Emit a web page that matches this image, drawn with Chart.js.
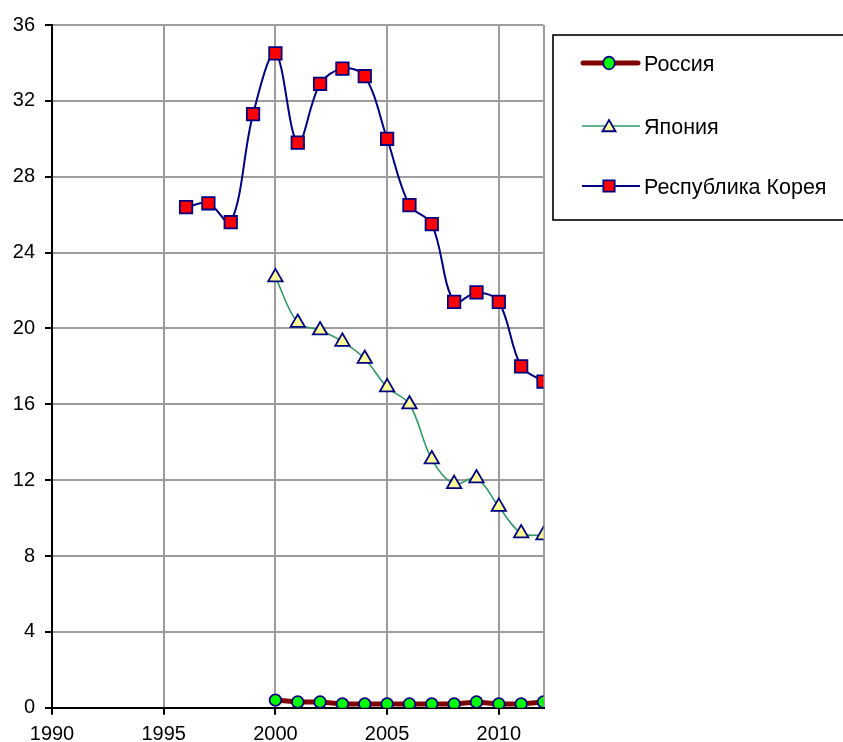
<!DOCTYPE html>
<html>
<head>
<meta charset="utf-8">
<script src="https://cdn.jsdelivr.net/npm/chart.js@4.4.1/dist/chart.umd.min.js"></script>
<style>
  html, body { margin: 0; padding: 0; background: #ffffff; }
  #wrap { width: 843px; height: 742px; }
</style>
</head>
<body>
<div id="wrap"><canvas id="c" width="843" height="742"></canvas></div>
<script>
// ---- Data ----
const koreaYears = [1996, 1997, 1998, 1999, 2000, 2001, 2002, 2003, 2004, 2005, 2006, 2007, 2008, 2009, 2010, 2011, 2012];
const koreaValues = [26.4, 26.6, 25.6, 31.3, 34.5, 29.8, 32.9, 33.7, 33.3, 30.0, 26.5, 25.5, 21.4, 21.9, 21.4, 18.0, 17.2];
const japanYears = [2000, 2001, 2002, 2003, 2004, 2005, 2006, 2007, 2008, 2009, 2010, 2011, 2012];
const japanValues = [22.7, 20.3, 19.9, 19.3, 18.4, 16.9, 16.0, 13.1, 11.8, 12.1, 10.6, 9.2, 9.1];
const russiaYears = [2000, 2001, 2002, 2003, 2004, 2005, 2006, 2007, 2008, 2009, 2010, 2011, 2012];
const russiaValues = [0.4, 0.3, 0.3, 0.2, 0.2, 0.2, 0.2, 0.2, 0.2, 0.3, 0.2, 0.2, 0.3];
const seriesNames = ['Россия', 'Япония', 'Республика Корея'];
const xTickLabels = [1990, 1995, 2000, 2005, 2010];
const yTickLabels = [0, 4, 8, 12, 16, 20, 24, 28, 32, 36];

const FONT = '"Liberation Sans", Arial, sans-serif';
const toXY = (xs, ys) => xs.map((x, i) => ({ x: x, y: ys[i] }));

const styles = [
  { color: '#800000', width: 5, point: 'circle', fill: '#00ff00', r: 5.8 },
  { color: '#339966', width: 1.6, point: 'triangle', fill: '#ffff99', r: 8.3 },
  { color: '#000080', width: 2, point: 'rect', fill: '#ff0000', r: 8.8 }
];

function drawMarker(ctx, type, x, y, r, fill) {
  ctx.save();
  ctx.beginPath();
  if (type === 'circle') {
    ctx.ellipse(x, y, r, r * 1.1, 0, 0, Math.PI * 2);
  } else if (type === 'triangle') {
    let rad = 0;
    ctx.moveTo(x + Math.sin(rad) * r, y - Math.cos(rad) * r);
    rad += 2 * Math.PI / 3;
    ctx.lineTo(x + Math.sin(rad) * r, y - Math.cos(rad) * r);
    rad += 2 * Math.PI / 3;
    ctx.lineTo(x + Math.sin(rad) * r, y - Math.cos(rad) * r);
    ctx.closePath();
  } else {
    const s = Math.SQRT1_2 * r;
    ctx.rect(x - s, y - s, 2 * s, 2 * s);
  }
  ctx.fillStyle = fill;
  ctx.fill();
  ctx.lineWidth = 1.8;
  ctx.strokeStyle = '#000080';
  ctx.stroke();
  ctx.restore();
}

const legendPlugin = {
  id: 'boxLegend',
  afterDraw(chart) {
    const ctx = chart.ctx;
    ctx.save();
    ctx.lineWidth = 1.6;
    ctx.strokeStyle = '#000000';
    ctx.strokeRect(553, 35, 300, 185);
    const ys = [63, 126, 186];
    for (let i = 0; i < 3; i++) {
      const st = styles[i];
      ctx.beginPath();
      ctx.lineWidth = st.width;
      ctx.strokeStyle = st.color;
      ctx.lineCap = i === 0 ? 'round' : 'butt';
      ctx.moveTo(i === 0 ? 583 : 582, ys[i]);
      ctx.lineTo(i === 0 ? 638 : 640, ys[i]);
      ctx.stroke();
      drawMarker(ctx, st.point, 609, ys[i] + (i === 1 ? 1.5 : 0), i === 1 ? 7.5 : (i === 2 ? 8 : 5.8), st.fill);
      ctx.fillStyle = '#000000';
      ctx.font = '21.5px ' + FONT;
      ctx.textBaseline = 'middle';
      ctx.textAlign = 'left';
      ctx.fillText(seriesNames[i], 644, ys[i] + 2);
    }
    ctx.restore();
  }
};

const allData = [toXY(russiaYears, russiaValues), toXY(japanYears, japanValues), toXY(koreaYears, koreaValues)];

const datasets = allData.map((d, i) => ({
  label: seriesNames[i],
  data: d,
  borderColor: styles[i].color,
  borderWidth: styles[i].width,
  backgroundColor: styles[i].fill,
  pointStyle: styles[i].point,
  pointRadius: styles[i].r,
  pointHoverRadius: styles[i].r,
  pointBorderColor: '#000080',
  pointBorderWidth: 1.8,
  pointBackgroundColor: styles[i].fill,
  tension: i === 0 ? 0 : 0.35,
  fill: false,
  order: 3 - i
}));

new Chart(document.getElementById('c'), {
  type: 'line',
  data: { datasets: datasets },
  options: {
    responsive: false,
    animation: false,
    events: [],
    layout: { padding: { top: 25, right: 299.5, left: 0, bottom: 0 } },
    plugins: { legend: { display: false }, tooltip: { enabled: false } },
    scales: {
      x: {
        type: 'linear',
        min: 1990,
        max: 2012,
        afterBuildTicks(scale) {
          scale.ticks = xTickLabels.map(v => ({ value: v })).concat([{ value: 2012 }]);
        },
        afterFit(scale) { scale.height = 34.3; },
        ticks: {
          font: { family: FONT, size: 20 },
          color: '#000000',
          padding: 8,
          maxRotation: 0,
          autoSkip: false,
          callback: (v) => (xTickLabels.includes(v) ? String(v) : '')
        },
        grid: {
          color: '#9c9c9c',
          lineWidth: 2,
          tickLength: 7,
          tickWidth: 2,
          tickColor: (ctx) => (ctx.tick && ctx.tick.value === 2012 ? 'rgba(0,0,0,0)' : '#000000')
        },
        border: { color: '#000000', width: 2 }
      },
      y: {
        min: 0,
        max: 36,
        afterBuildTicks(scale) {
          scale.ticks = yTickLabels.map(v => ({ value: v }));
        },
        afterFit(scale) { scale.width = 52; },
        ticks: {
          font: { family: FONT, size: 20 },
          color: '#000000',
          padding: 10,
          autoSkip: false
        },
        grid: {
          color: '#9c9c9c',
          lineWidth: 2,
          tickLength: 7,
          tickWidth: 2,
          tickColor: '#000000'
        },
        border: { color: '#000000', width: 2 }
      }
    }
  },
  plugins: [legendPlugin]
});
</script>
</body>
</html>
